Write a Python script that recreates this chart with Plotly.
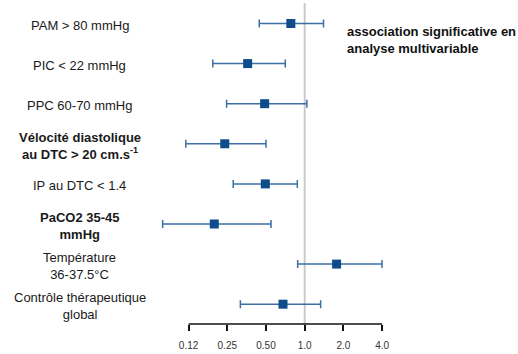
import plotly.graph_objects as go
import numpy as np

labels = [
    "PAM > 80 mmHg",
    "PIC < 22 mmHg",
    "PPC 60-70 mmHg",
    "<b>Vélocité diastolique<br>au DTC > 20 cm.s<sup>-1</sup></b>",
    "IP au DTC < 1.4",
    "<b>PaCO2 35-45<br>mmHg</b>",
    "Température<br>36-37.5°C",
    "Contrôle thérapeutique<br>global",
]
odds = [0.78, 0.36, 0.488, 0.239, 0.494, 0.198, 1.77, 0.678]
ci_low = [0.443, 0.193, 0.247, 0.119, 0.278, 0.0786, 0.882, 0.316]
ci_high = [1.40, 0.706, 1.04, 0.50, 0.876, 0.547, 3.99, 1.33]
tick_vals = [0.125, 0.25, 0.5, 1.0, 2.0, 4.0]
tick_text = ["0.12", "0.25", "0.50", "1.0", "2.0", "4.0"]
note = "<b>association significative en<br>analyse multivariable</b>"

rows = list(range(len(labels)))
odds_a = np.array(odds)
err_plus = np.array(ci_high) - odds_a
err_minus = odds_a - np.array(ci_low)

FONT = "Liberation Sans, Arial, Helvetica, sans-serif"

fig = go.Figure()
fig.add_trace(go.Scatter(
    x=odds, y=rows, mode="markers",
    marker=dict(symbol="square", size=9, color="#0f4c8c"),
    error_x=dict(type="data", array=err_plus, arrayminus=err_minus,
                 color="#3b6fa6", thickness=1.5, width=4),
    showlegend=False, hoverinfo="skip",
))

# reference line at 1
fig.add_shape(type="line", xref="x", yref="paper", x0=1, x1=1, y0=0, y1=1,
              line=dict(color="#c9c9c9", width=2), layer="below")
# axis line spanning tick range
fig.add_shape(type="line", xref="x", yref="paper", x0=min(tick_vals), x1=max(tick_vals),
              y0=0, y1=0, line=dict(color="#111111", width=1.5))

L, W = 150, 358
for i, lab in enumerate(labels):
    fig.add_annotation(x=(79.5 - L) / W, xref="paper", y=i, yref="y", text=lab,
                       showarrow=False, xanchor="center", yanchor="middle", align="center",
                       yshift=-2,
                       font=dict(family=FONT, size=13, color="#1a1a1a"))

fig.add_annotation(x=(344.5 - L) / W, xref="paper", y=0.41, yref="y", text=note,
                   showarrow=False, xanchor="left", yanchor="middle", align="left",
                   font=dict(family=FONT, size=13, color="#111111"))

fig.update_layout(
    width=518, height=354,
    margin=dict(l=L, r=518 - L - W, t=3, b=22),
    paper_bgcolor="white", plot_bgcolor="white",
    font=dict(family=FONT),
    xaxis=dict(type="log", range=[-1.203, -1.203 + W / 128.6], tickvals=tick_vals,
               ticktext=tick_text, ticks="outside", ticklen=6, tickwidth=1.5,
               tickcolor="#111111", showgrid=False, zeroline=False, showline=False,
               ticklabelstandoff=6,
               tickfont=dict(size=10, color="#333333", family=FONT)),
    yaxis=dict(range=[7.494, -0.511], showticklabels=False, showgrid=False,
               zeroline=False, showline=False, ticks=""),
)

fig.write_html("out.html", config={"displayModeBar": False},
               post_script="document.body.style.margin='0';document.body.style.overflow='hidden';")
